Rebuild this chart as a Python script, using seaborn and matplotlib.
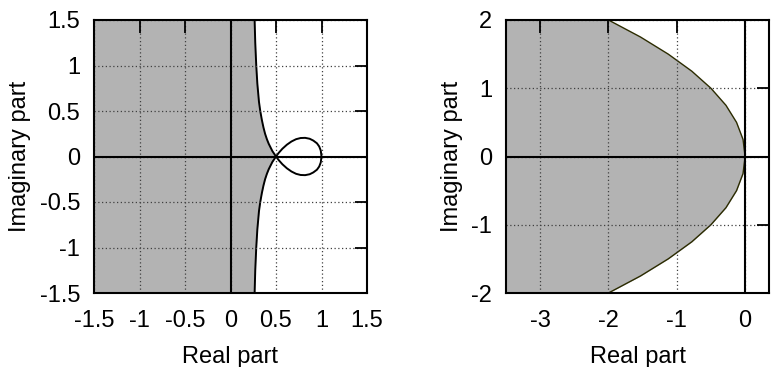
import numpy as np
import pandas as pd
import matplotlib
matplotlib.use('Agg')
import matplotlib.pyplot as plt
import seaborn as sns

# left panel: boundary (upper branch, mirrored below)
branch_y = [1.5, 1.25, 1.0, 0.8, 0.6, 0.5, 0.4, 0.32, 0.25, 0.19, 0.14, 0.1, 0.06, 0.03, 0.0]
branch_x = [0.265, 0.272, 0.283, 0.295, 0.313, 0.327, 0.345, 0.362, 0.38, 0.40, 0.42, 0.44, 0.46, 0.48, 0.5]

# loop from the double point out to 1 (upper half, mirrored below)
loop_x = [0.5, 0.53, 0.57, 0.62, 0.67, 0.72, 0.77, 0.82, 0.87, 0.91, 0.95, 0.975, 0.992, 1.0]
loop_y = [0.0, 0.04, 0.085, 0.13, 0.165, 0.19, 0.203, 0.205, 0.195, 0.175, 0.145, 0.11, 0.065, 0.0]

# right panel: parabola boundary
par_y = [-2.0, -1.75, -1.5, -1.25, -1.0, -0.75, -0.5, -0.25, 0.0,
         0.25, 0.5, 0.75, 1.0, 1.25, 1.5, 1.75, 2.0]
par_x = [-2.0, -1.53, -1.125, -0.78, -0.5, -0.28, -0.125, -0.03, 0.0,
         -0.03, -0.125, -0.28, -0.5, -0.78, -1.125, -1.53, -2.0]

left_ticks = [-1.5, -1, -0.5, 0, 0.5, 1, 1.5]
right_xticks = [-3, -2, -1, 0]
right_yticks = [-2, -1, 0, 1, 2]

sns.set_style('white')
plt.rcParams['font.family'] = ['Liberation Sans', 'DejaVu Sans']
plt.rcParams['text.color'] = 'black'
plt.rcParams['axes.labelcolor'] = 'black'
fs = 17

fill_c = '#b3b3b3'

fig = plt.figure(figsize=(7.73, 3.67), dpi=100)
ax1 = fig.add_axes([94/773, 74/367, 273/773, 273/367])
ax2 = fig.add_axes([506/773, 74/367, 263/773, 273/367])

# full symmetric boundary for the left panel
by = [-v for v in branch_y[:-1]] + branch_y[::-1]
bx = branch_x[:-1] + branch_x[::-1]
left = pd.DataFrame({'x': bx, 'y': by})
ax1.fill_betweenx(left['y'], -1.5, left['x'], color=fill_c, lw=0)
sns.lineplot(data=left, x='x', y='y', sort=False, estimator=None,
             color='black', lw=1.4, ax=ax1)
lx = loop_x + loop_x[::-1]
ly = loop_y + [-v for v in loop_y[::-1]]
sns.lineplot(x=lx, y=ly, sort=False, estimator=None, color='black', lw=1.4, ax=ax1)

par = pd.DataFrame({'x': par_x, 'y': par_y})
ax2.fill_betweenx(par['y'], -3.5, par['x'], color=fill_c, lw=0)
sns.lineplot(data=par, x='x', y='y', sort=False, estimator=None,
             color='#2b2b00', lw=1.0, ax=ax2)

for ax, xt, yt, xl, yl in [(ax1, left_ticks, left_ticks, (-1.5, 1.5), (-1.5, 1.5)),
                           (ax2, right_xticks, right_yticks, (-3.5, 0.35), (-2, 2))]:
    ax.set_xlim(*xl)
    ax.set_ylim(*yl)
    ax.set_xticks(xt)
    ax.set_yticks(yt)
    ax.set_xticklabels([f'{v:g}' for v in xt])
    ax.set_yticklabels([f'{v:g}' for v in yt])
    ax.axhline(0, color='black', lw=1.5, zorder=3)
    ax.axvline(0, color='black', lw=1.5, zorder=3)
    ax.grid(True, ls=(0, (1, 2)), color='0.25', lw=0.9)
    ax.set_axisbelow(False)
    ax.tick_params(direction='in', length=9, width=1.3, top=True, right=True,
                   labelsize=fs, labelcolor='black', color='black')
    ax.tick_params(axis='x', pad=12)
    ax.tick_params(axis='y', pad=10)
    for s in ax.spines.values():
        s.set_linewidth(1.5)
        s.set_color('black')
        s.set_zorder(4)
    ax.set_xlabel('Real part', fontsize=fs, labelpad=10)
    ax.set_ylabel('Imaginary part', fontsize=fs, labelpad=6)

fig.savefig('out.png', dpi=100)
